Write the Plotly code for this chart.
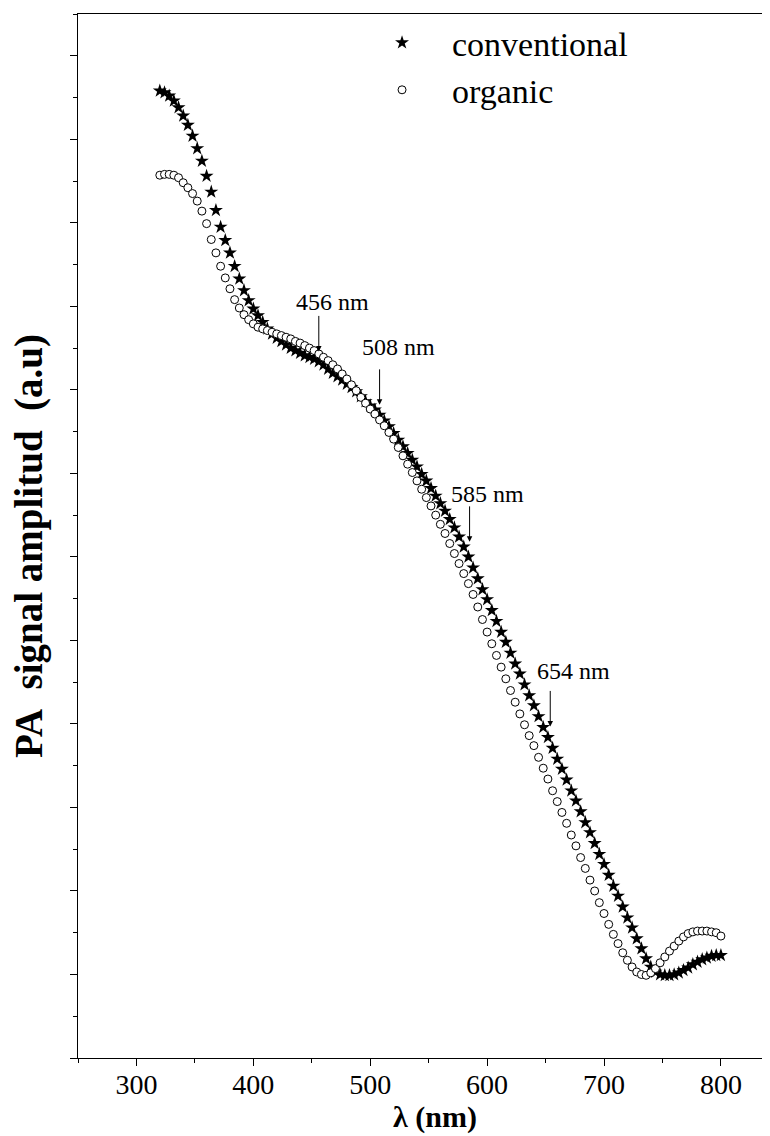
import plotly.graph_objects as go

wavelength = [320, 324, 328, 332, 336, 340, 344, 348, 352, 356,
              360, 364, 368, 372, 376, 380, 384, 388, 392, 396,
              400, 404, 408, 412, 416, 420, 424, 428, 432, 436,
              440, 444, 448, 452, 456, 460, 464, 468, 472, 476,
              480, 484, 488, 492, 496, 500, 504, 508, 512, 516,
              520, 524, 528, 532, 536, 540, 544, 548, 552, 556,
              560, 564, 568, 572, 576, 580, 584, 588, 592, 596,
              600, 604, 608, 612, 616, 620, 624, 628, 632, 636,
              640, 644, 648, 652, 656, 660, 664, 668, 672, 676,
              680, 684, 688, 692, 696, 700, 704, 708, 712, 716,
              720, 724, 728, 732, 736, 740, 744, 748, 752, 756,
              760, 764, 768, 772, 776, 780, 784, 788, 792, 796,
              800]

conventional = [11.58, 11.56, 11.52, 11.46, 11.38, 11.28, 11.17, 11.04, 10.89, 10.74,
                10.56, 10.37, 10.15, 9.95, 9.79, 9.64, 9.48, 9.33, 9.19, 9.07,
                8.97, 8.89, 8.81, 8.73, 8.67, 8.62, 8.58, 8.54, 8.50, 8.47,
                8.44, 8.41, 8.39, 8.37, 8.34, 8.30, 8.25, 8.20, 8.16, 8.12,
                8.07, 8.03, 7.98, 7.92, 7.86, 7.81, 7.76, 7.70, 7.63, 7.56,
                7.48, 7.40, 7.32, 7.24, 7.16, 7.08, 6.99, 6.91, 6.82, 6.73,
                6.64, 6.55, 6.45, 6.35, 6.24, 6.12, 6.00, 5.87, 5.74, 5.61,
                5.49, 5.36, 5.23, 5.10, 4.98, 4.85, 4.72, 4.60, 4.47, 4.34,
                4.22, 4.09, 3.96, 3.84, 3.71, 3.58, 3.46, 3.33, 3.20, 3.08,
                2.95, 2.82, 2.70, 2.57, 2.44, 2.32, 2.19, 2.06, 1.94, 1.81,
                1.68, 1.56, 1.43, 1.31, 1.19, 1.09, 1.03, 1.00, 0.99, 0.99,
                1.00, 1.02, 1.05, 1.08, 1.12, 1.15, 1.18, 1.20, 1.22, 1.23,
                1.23]

organic = [10.57, 10.58, 10.58, 10.57, 10.54, 10.48, 10.42, 10.35, 10.26, 10.14,
           9.99, 9.80, 9.64, 9.48, 9.34, 9.21, 9.08, 8.98, 8.90, 8.84,
           8.79, 8.75, 8.73, 8.71, 8.69, 8.67, 8.65, 8.63, 8.61, 8.58,
           8.56, 8.53, 8.50, 8.47, 8.43, 8.39, 8.35, 8.30, 8.25, 8.19,
           8.13, 8.06, 7.99, 7.91, 7.84, 7.77, 7.71, 7.64, 7.57, 7.49,
           7.41, 7.31, 7.21, 7.11, 7.01, 6.91, 6.81, 6.71, 6.61, 6.50,
           6.39, 6.28, 6.16, 6.04, 5.92, 5.80, 5.68, 5.55, 5.40, 5.25,
           5.10, 4.96, 4.82, 4.68, 4.54, 4.40, 4.26, 4.12, 3.99, 3.86,
           3.74, 3.60, 3.47, 3.34, 3.20, 3.07, 2.94, 2.81, 2.67, 2.54,
           2.40, 2.27, 2.13, 2.00, 1.86, 1.73, 1.60, 1.48, 1.37, 1.26,
           1.17, 1.09, 1.03, 1.00, 0.99, 1.02, 1.07, 1.14, 1.21, 1.28,
           1.34, 1.40, 1.45, 1.49, 1.51, 1.52, 1.52, 1.52, 1.51, 1.50,
           1.46]

peak_labels = ["456 nm", "508 nm", "585 nm", "654 nm"]
peak_nm = [456, 508, 585, 654]
peak_y = [8.46, 7.82, 6.18, 3.97]

assert len(wavelength) == len(conventional) == len(organic)

FONT = "Liberation Serif"

fig = go.Figure()
fig.add_trace(go.Scatter(
    x=wavelength, y=conventional, mode="markers", name="conventional",
    marker=dict(symbol="star", size=10.5, color="black", line=dict(width=0)),
))
fig.add_trace(go.Scatter(
    x=wavelength, y=organic, mode="markers", name="organic",
    marker=dict(symbol="circle", size=8, color="white",
                line=dict(width=1, color="black")),
))

# peak arrows and labels
label_dx = [14, 19, 18, 23]
label_dy = [-49, -58, -48, -55]
for lab, xn, yv, dx, dy in zip(peak_labels, peak_nm, peak_y, label_dx, label_dy):
    fig.add_annotation(x=xn, y=yv, xref="x", yref="y", text="",
                       showarrow=True, arrowhead=2, arrowsize=1.1, arrowwidth=1,
                       arrowcolor="black", ax=0, ay=-37)
    fig.add_annotation(x=xn, y=yv, xref="x", yref="y", text=lab,
                       showarrow=False, xshift=dx, yshift=-dy,
                       font=dict(family=FONT, size=24, color="black"))

fig.add_annotation(x=-0.0708, y=0.4904, xref="paper", yref="paper",
                   xanchor="center", yanchor="middle",
                   text="<b>PA\u00a0 signal amplitud\u00a0 (a.u)</b>", textangle=-90,
                   showarrow=False, font=dict(family=FONT, size=39, color="black"))
fig.add_annotation(x=0.516, y=-0.0565, xref="paper", yref="paper",
                   xanchor="center", yanchor="middle",
                   text="<b>\u03bb (nm)</b>",
                   showarrow=False, font=dict(family=FONT, size=30, color="black"))

fig.update_layout(
    width=762, height=1128,
    margin=dict(l=70, r=0, t=6, b=78),
    paper_bgcolor="white", plot_bgcolor="white",
    font=dict(family=FONT, color="black"),
    showlegend=True,
    legend=dict(x=0.396, y=1.0, xanchor="left", yanchor="top",
                font=dict(family=FONT, size=34, color="black"),
                bgcolor="rgba(0,0,0,0)", itemsizing="trace", itemwidth=90,
                tracegroupgap=0),
    xaxis=dict(range=[250, 842], showgrid=False, zeroline=False,
               showline=True, linecolor="black", linewidth=1.3, mirror=True,
               ticks="outside", ticklen=7, tickwidth=1.3, tickcolor="black",
               tick0=300, dtick=100, ticklabelstandoff=-6,
               tickfont=dict(family=FONT, size=28, color="black"),
               minor=dict(ticks="outside", ticklen=4, tickwidth=1.3,
                          tickcolor="black", dtick=50, tick0=250, showgrid=False)),
    yaxis=dict(range=[0, 12.5], showgrid=False, zeroline=False,
               showline=True, linecolor="black", linewidth=1.3, mirror=False,
               ticks="outside", ticklen=7, tickwidth=1.3, tickcolor="black",
               tick0=0, dtick=1, showticklabels=False,
               minor=dict(ticks="outside", ticklen=4, tickwidth=1.3,
                          tickcolor="black", dtick=0.5, tick0=0, showgrid=False)),
)

fig.write_html("out.html")
